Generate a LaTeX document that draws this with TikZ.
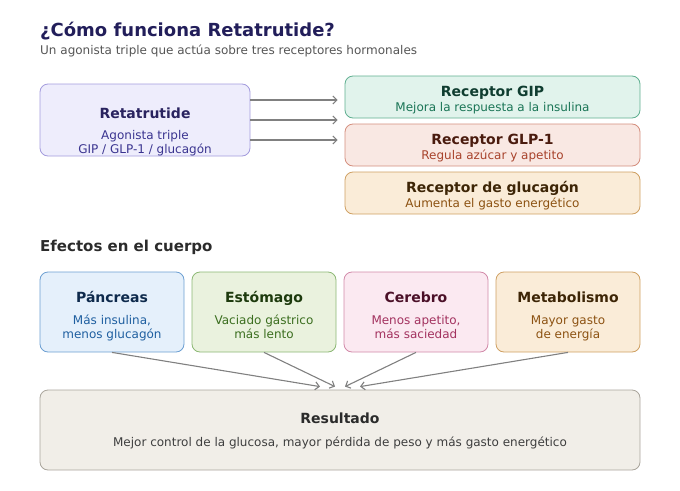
\documentclass[tikz,border=0pt]{standalone}
\usepackage{fontspec}
\setmainfont{DejaVu Sans}
\usetikzlibrary{arrows.meta}

\definecolor{titlenavy}{HTML}{221E5A}
\definecolor{subgray}{HTML}{555555}
\definecolor{headgray}{HTML}{2B2B2B}
\definecolor{arrowgray}{HTML}{808080}
% receptor colours
\definecolor{retafill}{HTML}{EEEDFC}
\definecolor{retaline}{HTML}{A39BDD}
\definecolor{retatitle}{HTML}{29235F}
\definecolor{retatext}{HTML}{3A3490}
\definecolor{gipfill}{HTML}{E1F3EC}
\definecolor{gipline}{HTML}{5FAF90}
\definecolor{giptitle}{HTML}{0F3D30}
\definecolor{giptext}{HTML}{1A7556}
\definecolor{glpfill}{HTML}{F9E8E3}
\definecolor{glpline}{HTML}{D48E7D}
\definecolor{glptitle}{HTML}{4A1B0E}
\definecolor{glptext}{HTML}{A8432C}
\definecolor{gcgfill}{HTML}{FAECD8}
\definecolor{gcgline}{HTML}{CFA062}
\definecolor{gcgtitle}{HTML}{3D2506}
\definecolor{gcgtext}{HTML}{8C5212}
% organ colours
\definecolor{pancfill}{HTML}{E5F0FB}
\definecolor{pancline}{HTML}{6C9FD2}
\definecolor{panctitle}{HTML}{0E2A4C}
\definecolor{panctext}{HTML}{1F5FA0}
\definecolor{estofill}{HTML}{EAF2DE}
\definecolor{estoline}{HTML}{8CB874}
\definecolor{estotitle}{HTML}{1D3A0D}
\definecolor{estotext}{HTML}{3B6E1F}
\definecolor{cerefill}{HTML}{FBE9F1}
\definecolor{cereline}{HTML}{D28AA9}
\definecolor{ceretitle}{HTML}{4B1028}
\definecolor{ceretext}{HTML}{A3325F}
\definecolor{resfill}{HTML}{F1EEE8}
\definecolor{resline}{HTML}{AAA59C}
\definecolor{restext}{HTML}{3E3E3E}

\begin{document}
\begin{tikzpicture}[
				x=1pt, y=-1pt,
				box style/.style={
					draw,
					rounded corners=8pt,
					line width=0.8pt,
					inner sep=0pt
				},
				head style/.style={
					anchor=base,
					inner sep=0pt,
					font=\fontsize{14}{17}\selectfont\bfseries
				},
				text style/.style={
					anchor=base,
					align=center,
					inner sep=0pt,
					font=\fontsize{12}{14}\selectfont
				},
				arrow style/.style={->, draw=arrowgray, line width=1.1pt},
				>={Straight Barb[length=4pt,width=8pt]}
				]
				
				\useasboundingbox (0,0) rectangle (680,490);
				
				\node[anchor=base west, inner sep=0pt, text=titlenavy,
				font=\fontsize{18}{22}\selectfont\bfseries] (title) at (40,36)
				{¿Cómo funciona Retatrutide?};
				\node[anchor=base west, inner sep=0pt, text=subgray,
				font=\fontsize{12}{14}\selectfont] (subtitle) at (40,54)
				{Un agonista triple que actúa sobre tres receptores hormonales};
				
				% drug and receptors
				\node[box style, fill=retafill, draw=retaline,
				minimum width=210pt, minimum height=72pt] (reta) at (145,120) {};
				\node[head style, text=retatitle] (retaT) at (145,118) {Retatrutide};
				\node[text style, text=retatext] (retaD) at (145,153)
				{Agonista triple\\GIP / GLP-1 / glucagón};
				
				\node[box style, fill=gipfill, draw=gipline,
				minimum width=295pt, minimum height=42pt] (gip) at (492.5,97) {};
				\node[head style, text=giptitle] (gipT) at (492.5,96) {Receptor GIP};
				\node[text style, text=giptext] (gipD) at (492.5,111)
				{Mejora la respuesta a la insulina};
				
				\node[box style, fill=glpfill, draw=glpline,
				minimum width=295pt, minimum height=42pt] (glp) at (492.5,145) {};
				\node[head style, text=glptitle] (glpT) at (492.5,144) {Receptor GLP-1};
				\node[text style, text=glptext] (glpD) at (492.5,159)
				{Regula azúcar y apetito};
				
				\node[box style, fill=gcgfill, draw=gcgline,
				minimum width=295pt, minimum height=42pt] (gcg) at (492.5,193) {};
				\node[head style, text=gcgtitle] (gcgT) at (492.5,192) {Receptor de glucagón};
				\node[text style, text=gcgtext] (gcgD) at (492.5,207)
				{Aumenta el gasto energético};
				
				\draw[arrow style, shorten >=7pt] ([yshift=20pt]reta.east) -- ([yshift=20pt]reta.east -| gip.west);
				\draw[arrow style, shorten >=7pt] (reta.east) -- (reta.east -| gip.west);
				\draw[arrow style, shorten >=7pt] ([yshift=-20pt]reta.east) -- ([yshift=-20pt]reta.east -| gip.west);
				
				% effects
				\node[anchor=base west, inner sep=0pt, text=headgray,
				font=\fontsize{15}{18}\selectfont\bfseries] (effects) at (40,251)
				{Efectos en el cuerpo};
				
				\node[box style, fill=pancfill, draw=pancline,
				minimum width=144pt, minimum height=80pt] (panc) at (112,312) {};
				\node[head style, text=panctitle] (pancT) at (112,302) {Páncreas};
				\node[text style, text=panctext] (pancD) at (112,338)
				{Más insulina,\\menos glucagón};
				
				\node[box style, fill=estofill, draw=estoline,
				minimum width=144pt, minimum height=80pt] (esto) at (264,312) {};
				\node[head style, text=estotitle] (estoT) at (264,302) {Estómago};
				\node[text style, text=estotext] (estoD) at (264,338)
				{Vaciado gástrico\\más lento};
				
				\node[box style, fill=cerefill, draw=cereline,
				minimum width=144pt, minimum height=80pt] (cere) at (416,312) {};
				\node[head style, text=ceretitle] (cereT) at (416,302) {Cerebro};
				\node[text style, text=ceretext] (cereD) at (416,338)
				{Menos apetito,\\más saciedad};
				
				\node[box style, fill=gcgfill, draw=gcgline,
				minimum width=144pt, minimum height=80pt] (meta) at (568,312) {};
				\node[head style, text=gcgtitle] (metaT) at (568,302) {Metabolismo};
				\node[text style, text=gcgtext] (metaD) at (568,338)
				{Mayor gasto\\de energía};
				
				% result
				\node[box style, fill=resfill, draw=resline,
				minimum width=600pt, minimum height=80pt] (res) at (340,430) {};
				\node[head style, text=headgray] (resT) at (340,423) {Resultado};
				\node[text style, text=restext] (resD) at (340,446)
				{Mejor control de la glucosa, mayor pérdida de peso y más gasto energético};
				
				\draw[arrow style] (panc.south) -- ([xshift=-20pt,yshift=3pt]res.north);
				\draw[arrow style] (esto.south) -- ([xshift=-5pt,yshift=3pt]res.north);
				\draw[arrow style] (cere.south) -- ([xshift=5pt,yshift=3pt]res.north);
				\draw[arrow style] (meta.south) -- ([xshift=20pt,yshift=3pt]res.north);
				
			\end{tikzpicture}
\end{document}
